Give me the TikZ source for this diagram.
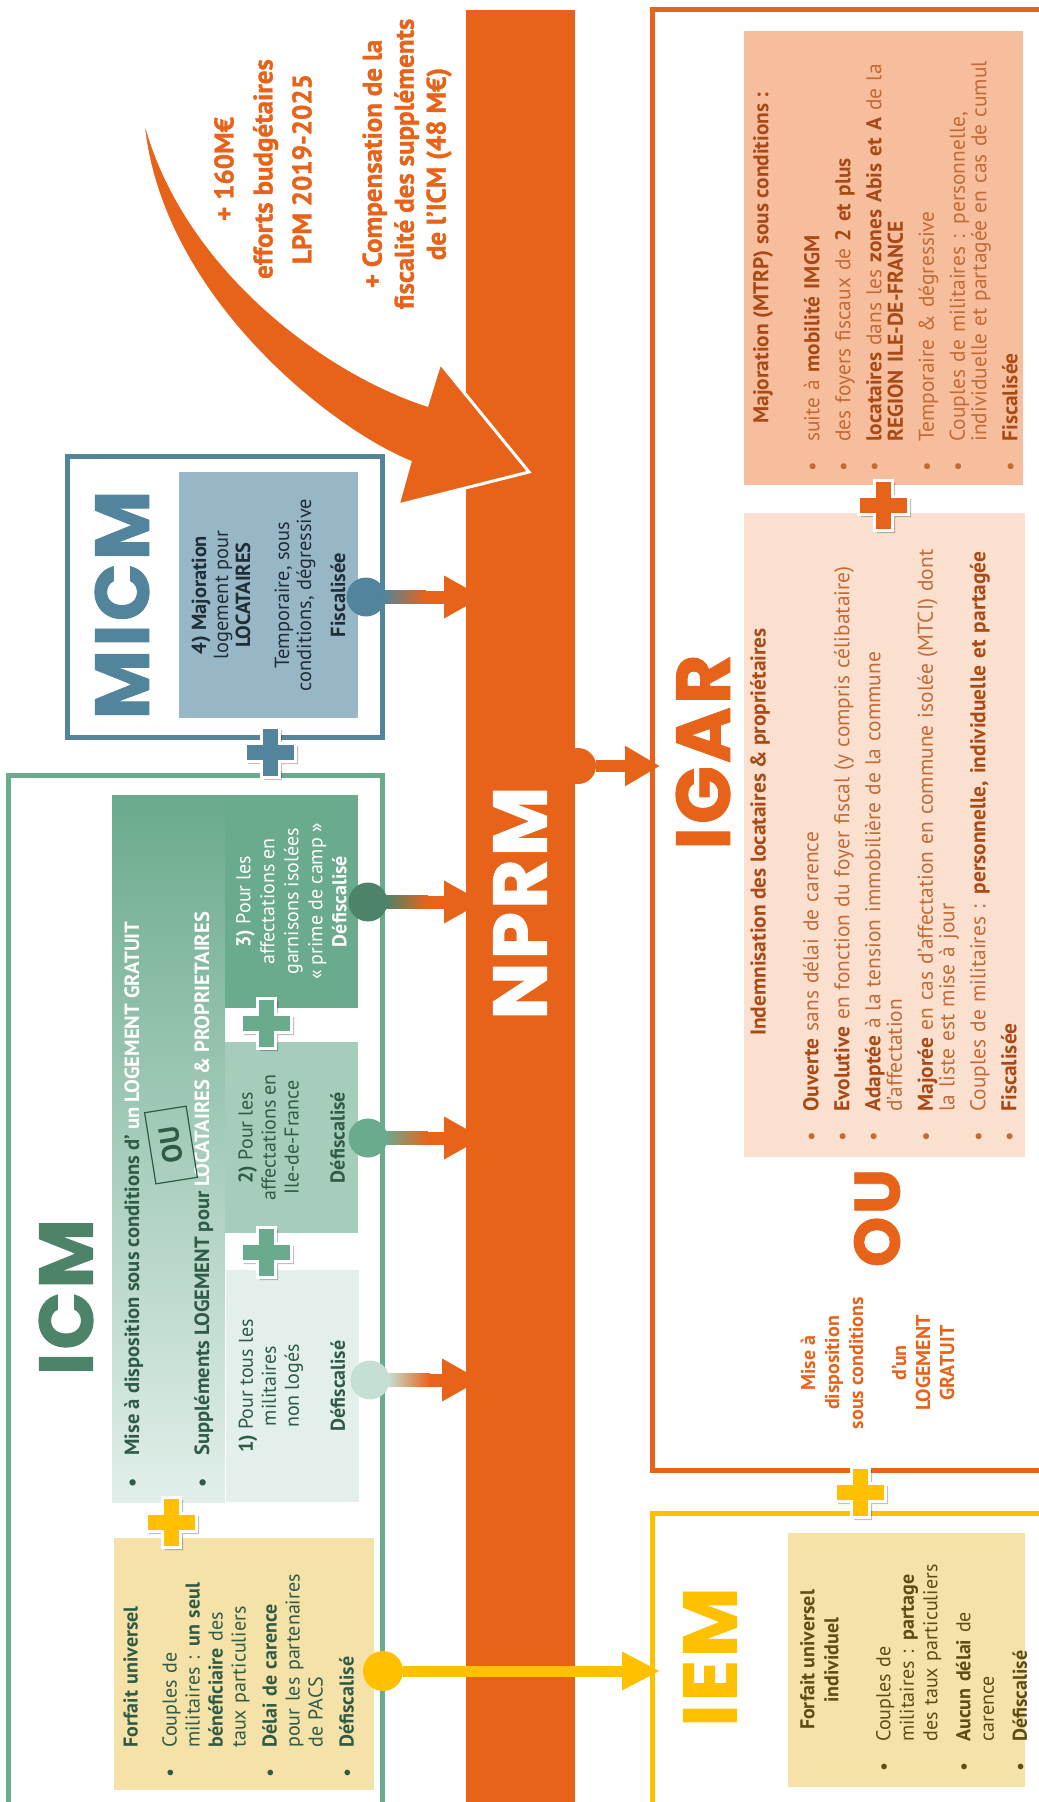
\documentclass[tikz,border=0pt]{standalone}
\usepackage{fontspec}
\setmainfont{PT Sans}
\newfontfamily\heavyfont{PT Sans}[BoldFeatures={FakeBold=1.2}]
\newfontfamily\titlefont{Poppins}[LetterSpace=4, BoldFeatures={FakeBold=1.2}]
\usetikzlibrary{arrows.meta}

% colours
\definecolor{nprmorange}{HTML}{E8631A}
\definecolor{micmblue}{HTML}{52849B}
\definecolor{micmfill}{HTML}{97B7C7}
\definecolor{micmtext}{HTML}{1F2D35}
\definecolor{icmgreen}{HTML}{6AAA8D}
\definecolor{icmdark}{HTML}{4D8469}
\definecolor{icmtext}{HTML}{2E5A46}
\definecolor{icmmid}{HTML}{A6CDBB}
\definecolor{icmlight}{HTML}{E2EFEA}
\definecolor{icmpale}{HTML}{C5DFD3}
\definecolor{iemyellow}{HTML}{FFC000}
\definecolor{paleyellow}{HTML}{F4E2A8}
\definecolor{iemtext}{HTML}{5E4C16}
\definecolor{salmon}{HTML}{F7BE9D}
\definecolor{peach}{HTML}{FBDFCF}
\definecolor{igartext}{HTML}{C46A35}
\definecolor{igarbold}{HTML}{A84A16}

% bullet lists inside the boxes
\newlength{\bulind}
\setlength{\bulind}{15pt}
\newcommand{\bitem}{\par\hangindent=\bulind\hangafter=1\noindent\makebox[\bulind][l]{\textbullet}}
\newcommand{\hb}[1]{\textbf{\textcolor{igarbold}{#1}}}

\begin{document}
\begin{tikzpicture}[x=0.5pt, y=-0.5pt,
    rot/.style={rotate=90, inner sep=0pt},
    title/.style={rot, font=\titlefont\bfseries\fontsize{38}{38}\selectfont},
    card/.style={rot, align=center},
    bullets/.style={rot, anchor=north west, text width=330pt, align=left},
    dot/.style={circle, inner sep=0pt},
    link/.style={line width=6.5pt, nprmorange, -{Triangle[length=19.5pt, width=20pt]}},
    frame/.style={line width=2.5pt},
    pics/crossmark/.style={code={
      \path[fill=#1, draw=white, line width=1.5pt,
            preaction={fill=black, opacity=0.25, transform canvas={shift={(1.5pt,-1.5pt)}}}]
        (-9,-25) -- (9,-25) -- (9,-9) -- (25,-9) -- (25,9) -- (9,9) -- (9,25)
        -- (-9,25) -- (-9,9) -- (-25,9) -- (-25,-9) -- (-9,-9) -- cycle;
    }}
  ]
  \useasboundingbox (0,0) rectangle (1038,1802);

  % Draw NPRM bar
  \node[fill=nprmorange, inner sep=0pt, minimum width=54.5pt, minimum height=900pt, anchor=north west] (bar) at (466,10) {};
  \node[title, text=white] (nprm) at (520,903) {NPRM};

  % Draw budget arrow
  \fill[nprmorange, draw=white, line width=1.5pt]
    (142,108) .. controls (175,260) and (320,370) .. (427,405)
    -- (440,363) -- (529,472) -- (398,505) -- (410,462)
    .. controls (330,430) and (150,290) .. (142,108) -- cycle;
  \node[rot, align=center, text=nprmorange, font=\heavyfont\bfseries\fontsize{13.5}{19.5}\selectfont] (lpm) at (263,169)
    {+ 160M€\\efforts budgétaires\\LPM 2019-2025};
  \node[rot, align=center, text=nprmorange, font=\heavyfont\bfseries\fontsize{13.5}{16}\selectfont] (compens) at (407,164)
    {+ Compensation de la\\fiscalité des suppléments\\de l’ICM (48 M€)};

  % Draw MICM
  \draw[frame, micmblue] (67,457) rectangle (382,737);
  \node[title, text=micmblue] (micm) at (122,605) {MICM};
  \node[card, fill=micmfill, minimum width=123pt, minimum height=89.5pt, text=micmtext,
        font=\fontsize{10.2}{11}\selectfont] (maj4) at (268.5,595)
    {\textbf{4) Majoration}\\logement pour\\\textbf{LOCATAIRES}\\[8.5pt]Temporaire, sous\\conditions, dégressive\\[6pt]\textbf{Fiscalisée}};

  % Draw ICM
  \draw[frame, icmgreen] (8,1815) -- (8,775) -- (382,775) -- (382,1815);
  \node[title, text=icmdark] (icm) at (66,1297) {ICM};
  \shade[top color=icmgreen, bottom color=icmlight] (112,795) rectangle (225,1502);
  \node[rot, anchor=base west, font=\bfseries\fontsize{10.3}{12}\selectfont, text=icmtext] (mise) at (139,1488)
    {\makebox[16pt][l]{\textbullet}Mise à disposition sous conditions d’ \textcolor{white}{un LOGEMENT GRATUIT}};
  \node[rot, anchor=base west, font=\bfseries\fontsize{10.3}{12}\selectfont, text=icmtext] (suppl) at (209,1488)
    {\makebox[16pt][l]{\textbullet}Suppléments LOGEMENT pour \textcolor{white}{LOCATAIRES \& PROPRIETAIRES}};
  \node[rotate=99, inner sep=0pt, draw=icmtext, line width=0.6pt, minimum width=36pt, minimum height=21pt,
        text=icmtext, font=\bfseries\fontsize{14}{14}\selectfont] (ou1) at (171,1145) {OU};
  \node[card, fill=icmgreen, minimum width=106.5pt, minimum height=66.5pt, text=white,
        font=\fontsize{10}{12}\selectfont] (gar3) at (291.5,901.5)
    {\textbf{3)} Pour les\\affectations en\\garnisons isolées\\« prime de camp »\\\textbf{Défiscalisé}};
  \node[card, fill=icmmid, minimum width=95.5pt, minimum height=66.5pt, text=icmtext,
        font=\fontsize{10}{11.5}\selectfont] (idf2) at (291.5,1137.5)
    {\textbf{2)} Pour les\\affectations en\\Ile-de-France\\[11.5pt]\textbf{Défiscalisé}};
  \node[card, fill=icmlight, minimum width=116pt, minimum height=66.5pt, text=icmtext,
        font=\fontsize{10}{11.5}\selectfont] (all1) at (292,1386)
    {\textbf{1)} Pour tous les\\militaires\\non logés\\[11.5pt]\textbf{Défiscalisé}};
  \node[fill=paleyellow, inner sep=0pt, minimum width=130pt, minimum height=126pt] (forfbox) at (244,1664) {};
  \node[bullets, text=icmtext, font=\fontsize{10}{11.5}\selectfont] (forftxt) at (123,1778)
    {\setlength{\parskip}{4pt}\noindent\hspace*{\bulind}\textbf{Forfait universel}\par\vspace{4pt}%
     \bitem Couples de\newline militaires : \textbf{un seul}\newline \textbf{bénéficiaire} des\newline taux particuliers
     \bitem \textbf{Délai de carence}\newline pour les partenaires\newline de PACS
     \bitem \textbf{Défiscalisé}};

  % Draw links to the bar
  \node[dot, fill=micmblue, minimum size=19.5pt] (cM) at (366,597) {};
  \node[dot, fill=icmdark, minimum size=19.5pt] (c3) at (368,902) {};
  \node[dot, fill=icmgreen, minimum size=19.5pt] (c2) at (368,1138) {};
  \node[dot, fill=icmpale, minimum size=19.5pt] (c1) at (370,1380) {};
  \coordinate (tM) at (483,597);
  \coordinate (t3) at (483,902);
  \coordinate (t2) at (483,1138);
  \coordinate (t1) at (481,1380);
  \foreach \c/\t/\col in {cM/tM/micmblue, c3/t3/icmdark, c2/t2/icmgreen, c1/t1/icmpale} {
    \draw[link] (\c) -- (\t);
    \shade[left color=\col, right color=nprmorange] (\c.east) ++(-2,-6.5) rectangle ++(42,13);
  }

  % Draw IGAR
  \draw[frame, nprmorange] (1045,10) -- (652,10) -- (652,1470) -- (1045,1470);
  \node[title, text=nprmorange] (igar) at (703,752) {IGAR};
  \node[fill=salmon, inner sep=0pt, minimum width=139.5pt, minimum height=227pt] (majbox) at (883.5,258) {};
  \node[fill=peach, inner sep=0pt, minimum width=140.5pt, minimum height=322pt] (indbox) at (884.5,835) {};
  \node[rot, text=igarbold, font=\bfseries\fontsize{10.7}{10.75}\selectfont] (majhead) at (763,258)
    {Majoration (MTRP) sous conditions :};
  \node[bullets, text=igartext, font=\fontsize{10.7}{10.75}\selectfont] (majtxt) at (788,472)
    {\setlength{\parskip}{4.75pt}%
     \bitem suite à \hb{mobilité IMGM}
     \bitem des foyers fiscaux de \hb{2 et plus}
     \bitem \hb{locataires} dans les \hb{zones Abis et A} de la\newline \hb{REGION ILE-DE-FRANCE}
     \bitem Temporaire \& dégressive
     \bitem Couples de militaires : personnelle,\newline individuelle et partagée en cas de cumul
     \bitem \hb{Fiscalisée}};
  \node[rot, text=igarbold, font=\bfseries\fontsize{10.7}{10.75}\selectfont] (indhead) at (760,832)
    {Indemnisation des locataires \& propriétaires};
  \node[bullets, text=igartext, font=\fontsize{10.7}{10.75}\selectfont] (indtxt) at (787,1142)
    {\setlength{\parskip}{4.75pt}%
     \bitem \hb{Ouverte} sans délai de carence
     \bitem \hb{Evolutive} en fonction du foyer fiscal (y compris célibataire)
     \bitem \hb{Adaptée} à la tension immobilière de la commune\newline d’affectation
     \bitem \hb{Majorée} en cas d’affectation en commune isolée (MTCI) dont\newline la liste est mise à jour
     \bitem Couples de militaires : \hb{personnelle, individuelle et partagée}
     \bitem \hb{Fiscalisée}};
  \node[rot, text=nprmorange, font=\titlefont\bfseries\fontsize{32}{32}\selectfont] (ou2) at (877,1218) {OU};
  \node[rot, align=center, text=nprmorange, font=\bfseries\fontsize{10}{12}\selectfont] (gratuit) at (877.5,1363)
    {Mise à\\disposition\\sous conditions\\[9.5pt]d’un\\LOGEMENT\\GRATUIT};
  \node[dot, fill=nprmorange, minimum size=18pt] (cG) at (578,766) {};
  \coordinate (tG) at (660,766);
  \draw[link, line width=6pt, -{Triangle[length=17.5pt, width=19pt]}] (cG) -- (tG);

  % Draw IEM
  \draw[frame, iemyellow] (1045,1513) -- (652,1513) -- (652,1815);
  \node[title, text=iemyellow] (iem) at (710,1657) {IEM};
  \node[fill=paleyellow, inner sep=0pt, minimum width=118.5pt, minimum height=127pt] (iembox) at (906.5,1660) {};
  \node[rot, align=center, text=iemtext, font=\bfseries\fontsize{10}{12}\selectfont] (iemhead) at (819.5,1660)
    {Forfait universel\\individuel};
  \node[bullets, text=iemtext, font=\fontsize{10}{11.75}\selectfont] (iemtxt) at (857,1772)
    {\setlength{\parskip}{4.75pt}%
     \bitem Couples de\newline militaires : \textbf{partage}\newline des taux particuliers
     \bitem \textbf{Aucun délai} de\newline carence
     \bitem \textbf{Défiscalisé}};
  \node[dot, fill=iemyellow, minimum size=20pt] (cY) at (383,1671) {};
  \coordinate (tY) at (660,1671);
  \draw[link, iemyellow, line width=5.5pt, -{Triangle[length=19pt, width=18pt]}] (cY) -- (tY);

  % Draw plus signs
  \pic at (270,752) {crossmark=micmblue};
  \pic at (266,1023) {crossmark=icmgreen};
  \pic at (266,1252) {crossmark=icmgreen};
  \pic at (171,1522) {crossmark=iemyellow};
  \pic at (883,505) {crossmark=nprmorange};
  \pic at (860,1492) {crossmark=iemyellow};
\end{tikzpicture}
\end{document}
